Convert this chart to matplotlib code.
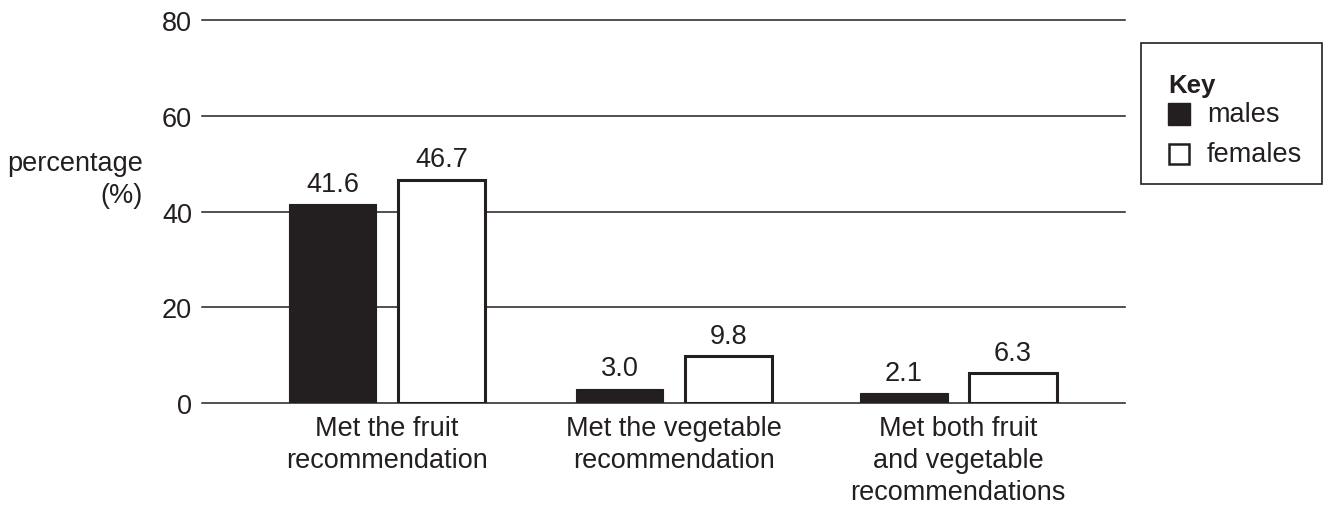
import numpy as np
import matplotlib.pyplot as plt
from matplotlib.patches import Rectangle

plt.rcParams['font.family'] = ['Liberation Sans', 'DejaVu Sans']

categories = ['Met the fruit\nrecommendation',
              'Met the vegetable\nrecommendation',
              'Met both fruit\nand vegetable\nrecommendations']
males = [41.6, 3.0, 2.1]
females = [46.7, 9.8, 6.3]
yticks = [0, 20, 40, 60, 80]

ink = '#231f20'
fs = 19.5

fig = plt.figure(figsize=(13.28, 5.06), dpi=100)
ax = fig.add_axes([0.152, 0.2016, 0.695, 0.7564])

x = np.array([0, 1.0, 1.99])
w = 0.305
off = 0.19

for t in yticks:
    ax.axhline(t, color=ink, lw=1.1, zorder=0, clip_on=False)

ax.bar(x - off, males, w, color=ink, edgecolor=ink, linewidth=0.8, zorder=2)
ax.bar(x + off, females, w, color='white', edgecolor=ink, linewidth=2.2, zorder=2)

for xi, v in zip(x - off, males):
    ax.text(xi, v + 1.5, f'{v:.1f}', ha='center', va='bottom', fontsize=fs, color=ink)
for xi, v in zip(x + off, females):
    ax.text(xi, v + 1.5, f'{v:.1f}', ha='center', va='bottom', fontsize=fs, color=ink)

ax.set_xlim(-0.645, 2.57)
ax.set_ylim(0, 80)
ax.set_yticks(yticks)
ax.set_yticklabels([str(t) for t in yticks], fontsize=fs, color=ink)
ax.set_xticks(x)
ax.set_xticklabels(categories, fontsize=fs, color=ink, linespacing=1.3, va='top')
ax.tick_params(length=0, pad=9)
ax.tick_params(axis='y', pad=7)
for s in ax.spines.values():
    s.set_visible(False)

fig.text(143 / 1328, 1 - 180 / 506, 'percentage\n(%)', ha='right', va='center',
         fontsize=fs, color=ink, linespacing=1.3)

# key box
fig.patches.append(Rectangle((1141 / 1328, 1 - 185 / 506), 181 / 1328, 141 / 506,
                             transform=fig.transFigure, fill=False, edgecolor=ink, lw=1.2))
fig.text(1168 / 1328, 1 - 86 / 506, 'Key', fontsize=18.5, fontweight='bold', va='center', color=ink)
fig.patches.append(Rectangle((1168 / 1328, 1 - 126 / 506), 22 / 1328, 22 / 506,
                             transform=fig.transFigure, facecolor=ink, edgecolor=ink, lw=1))
fig.text(1207 / 1328, 1 - 115 / 506, 'males', fontsize=fs, va='center', color=ink)
fig.patches.append(Rectangle((1169 / 1328, 1 - 165 / 506), 20 / 1328, 20 / 506,
                             transform=fig.transFigure, facecolor='white', edgecolor=ink, lw=1.8))
fig.text(1207 / 1328, 1 - 155 / 506, 'females', fontsize=fs, va='center', color=ink)

fig.savefig('out.png', dpi=100)
